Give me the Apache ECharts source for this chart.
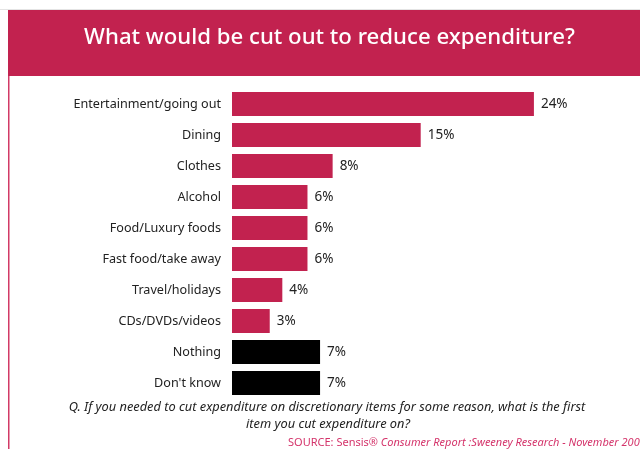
<!DOCTYPE html>
<html>
<head>
<meta charset="utf-8">
<style>
  html, body { margin: 0; padding: 0; background: #fff; }
  #chart { width: 640px; height: 449px; }
</style>
<script src="https://cdn.jsdelivr.net/npm/echarts@6/dist/echarts.min.js"></script>
</head>
<body>
<div id="chart"></div>
<script>
// Survey answers, top to bottom
const categories = [
  'Entertainment/going out',
  'Dining',
  'Clothes',
  'Alcohol',
  'Food/Luxury foods',
  'Fast food/take away',
  'Travel/holidays',
  'CDs/DVDs/videos',
  'Nothing',
  "Don't know"
];
// Share of respondents (%)
const values = [24, 15, 8, 6, 6, 6, 4, 3, 7, 7];
// Answers that are not a spending category
const nonAnswers = ['Nothing', "Don't know"];

const titleText = 'What would be cut out to reduce expenditure?';
const noteLines = [
  'Q. If you needed to cut expenditure on discretionary items for some reason, what is the first',
  'item you cut expenditure on?'
];
const sourceLead = 'SOURCE: Sensis\u00AE ';
const sourceRest = 'Consumer Report :Sweeney Research - November 2005';

const CRIMSON = '#C2224F';
const FONT = '"Noto Sans", "Open Sans", sans-serif';

const chart = echarts.init(document.getElementById('chart'), null, { renderer: 'canvas' });

chart.setOption({
  animation: false,
  backgroundColor: '#fff',
  grid: { left: 232, right: 30.6, top: 88.5, bottom: 50.5, containLabel: false },
  xAxis: {
    type: 'value', min: 0, max: 30,
    show: false
  },
  yAxis: {
    type: 'category',
    data: categories,
    inverse: true,
    axisLine: { show: false },
    axisTick: { show: false },
    splitLine: { show: false },
    axisLabel: { color: '#222', fontSize: 12.6, fontFamily: FONT, margin: 11 }
  },
  series: [{
    type: 'bar',
    data: values,
    barWidth: 24,
    itemStyle: {
      color: p => nonAnswers.includes(p.name) ? '#000' : CRIMSON
    },
    label: {
      show: true, position: 'right', distance: 7,
      formatter: '{c}%', color: '#222', fontSize: 13.5, fontFamily: FONT
    }
  }],
  graphic: [
    // thin grey rule above the banner
    { type: 'rect', shape: { x: 0, y: 9, width: 640, height: 1 }, style: { fill: '#e4e4e4' }, silent: true },
    // title banner
    { type: 'rect', shape: { x: 8, y: 10, width: 632, height: 66 }, style: { fill: CRIMSON }, silent: true },
    // left edge rule
    { type: 'rect', shape: { x: 8, y: 76, width: 1.5, height: 373 }, style: { fill: '#D23A66' }, silent: true },
    {
      type: 'text', x: 329.5, y: 38, silent: true,
      style: {
        text: titleText, fill: '#fff', font: '500 22.2px ' + FONT,
        textAlign: 'center', textVerticalAlign: 'middle'
      }
    },
    {
      type: 'text', x: 327, y: 407, silent: true,
      style: {
        text: noteLines[0], fill: '#222', font: 'italic 12.8px ' + FONT,
        textAlign: 'center', textVerticalAlign: 'middle'
      }
    },
    {
      type: 'text', x: 328, y: 424, silent: true,
      style: {
        text: noteLines[1], fill: '#222', font: 'italic 12.8px ' + FONT,
        textAlign: 'center', textVerticalAlign: 'middle'
      }
    },
    {
      type: 'text', x: 288, y: 443, silent: true,
      style: {
        text: '{a|' + sourceLead + '}{b|' + sourceRest + '}',
        textAlign: 'left', textVerticalAlign: 'middle',
        rich: {
          a: { fill: '#D4336A', color: '#D4336A', fontSize: 11, fontFamily: FONT },
          b: { fill: '#D4336A', color: '#D4336A', fontSize: 11, fontFamily: FONT, fontStyle: 'italic' }
        }
      }
    }
  ]
});
</script>
</body>
</html>
